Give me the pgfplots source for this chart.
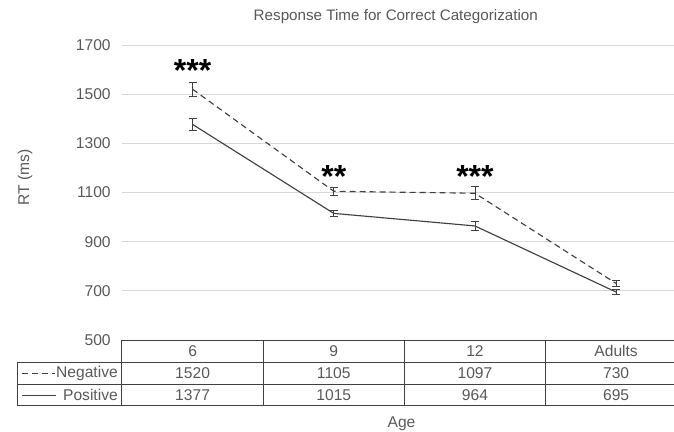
\documentclass[border=0pt]{standalone}
\usepackage{pgfplots}
\pgfplotsset{compat=1.18}
\usepackage{fontspec}
\setmainfont{Liberation Sans}
\definecolor{txt}{HTML}{595959}
\definecolor{ln}{HTML}{404040}
\definecolor{gridc}{HTML}{D9D9D9}
\begin{document}
\begin{tikzpicture}
\useasboundingbox (-91.5pt,-68.625pt) rectangle (414pt,255pt);
\begin{axis}[
  at={(0pt,0pt)}, anchor=south west,
  scale only axis, width=414pt, height=221.25pt,
  xmin=-0.5, xmax=3.41, ymin=500, ymax=1700,
  ytick={500,700,...,1700},
  xtick=\empty,
  ymajorgrids, major grid style={gridc, line width=0.75pt},
  axis line style={draw=none},
  major tick length=0pt,
  clip=false,
  font=\fontsize{11.7}{13}\selectfont,
  tick label style={text=txt, font=\fontsize{11.7}{13}\selectfont},
  yticklabel style={xshift=-5pt},
  /pgf/number format/assume math mode=true,
  /pgf/number format/set thousands separator={},
  title={Response Time for Correct Categorization},
  title style={at={(axis description cs:0.496,1)}, anchor=center, yshift=15pt, text=txt, font=\fontsize{11.4}{13}\selectfont},
  ylabel={RT (ms)},
  every axis y label/.style={at={(axis description cs:-0.1757,0.55)}, rotate=90, anchor=center, text=txt, font=\fontsize{11.7}{13}\selectfont},
]
% Negative
\addplot[ln, line width=0.85pt, dash pattern=on 4.5pt off 3pt, mark=none,
  error bars/.cd, y dir=both, y explicit,
  error bar style={solid, line width=0.6pt, ln},
  error mark options={rotate=90, mark size=3pt, solid, line width=0.6pt, ln}]
  table[x=x, y=y, y error=e] {
x y e
0 1520 29
1 1105 17
2 1097 26
3 730 11
};
% Positive
\addplot[ln, line width=0.85pt, solid, mark=none,
  error bars/.cd, y dir=both, y explicit,
  error bar style={solid, line width=0.6pt, ln},
  error mark options={rotate=90, mark size=3pt, solid, line width=0.6pt, ln}]
  table[x=x, y=y, y error=e] {
x y e
0 1377 25
1 1015 14
2 964 18
3 695 11
};
% significance stars
\node[font=\fontsize{24}{24}\selectfont\bfseries, text=black] at (axis cs:0,1598) {***};
\node[font=\fontsize{24}{24}\selectfont\bfseries, text=black] at (axis cs:1,1166) {**};
\node[font=\fontsize{24}{24}\selectfont\bfseries, text=black] at (axis cs:2,1166) {***};
% data table
\draw[ln, line width=0.75pt] (axis cs:-0.5,500) -- (axis cs:3.41,500);
\draw[ln, line width=0.75pt] (axis cs:-1.243,409.5) -- (axis cs:3.41,409.5);
\draw[ln, line width=0.75pt] (axis cs:-1.243,318.7) -- (axis cs:3.41,318.7);
\draw[ln, line width=0.75pt] (axis cs:-1.243,233) -- (axis cs:3.41,233);
\draw[ln, line width=0.75pt] (axis cs:-1.243,409.5) -- (axis cs:-1.243,233);
\draw[ln, line width=0.75pt] (axis cs:-0.5,500) -- (axis cs:-0.5,233);
\draw[ln, line width=0.75pt] (axis cs:0.5,500) -- (axis cs:0.5,233);
\draw[ln, line width=0.75pt] (axis cs:1.5,500) -- (axis cs:1.5,233);
\draw[ln, line width=0.75pt] (axis cs:2.5,500) -- (axis cs:2.5,233);
\node[text=txt] at (axis cs:0,454.8) {6};
\node[text=txt] at (axis cs:1,454.8) {9};
\node[text=txt] at (axis cs:2,454.8) {12};
\node[text=txt] at (axis cs:3,454.8) {Adults};
\node[text=txt] at (axis cs:0,363.5) {1520};
\node[text=txt] at (axis cs:1,363.5) {1105};
\node[text=txt] at (axis cs:2,363.5) {1097};
\node[text=txt] at (axis cs:3,363.5) {730};
\node[text=txt] at (axis cs:0,276) {1377};
\node[text=txt] at (axis cs:1,276) {1015};
\node[text=txt] at (axis cs:2,276) {964};
\node[text=txt] at (axis cs:3,276) {695};
\draw[ln, line width=0.85pt, dash pattern=on 4.5pt off 3pt] (axis cs:-1.21,363.5) -- (axis cs:-0.975,363.5);
\draw[ln, line width=0.85pt] (axis cs:-1.21,276) -- (axis cs:-0.965,276);
\node[text=txt, anchor=east, inner sep=0pt] at (axis cs:-0.528,363.5) {Negative};
\node[text=txt, anchor=east, inner sep=0pt] at (axis cs:-0.528,276) {Positive};
\node[text=txt] at (axis cs:1.48,160) {Age};
\end{axis}
\end{tikzpicture}
\end{document}
